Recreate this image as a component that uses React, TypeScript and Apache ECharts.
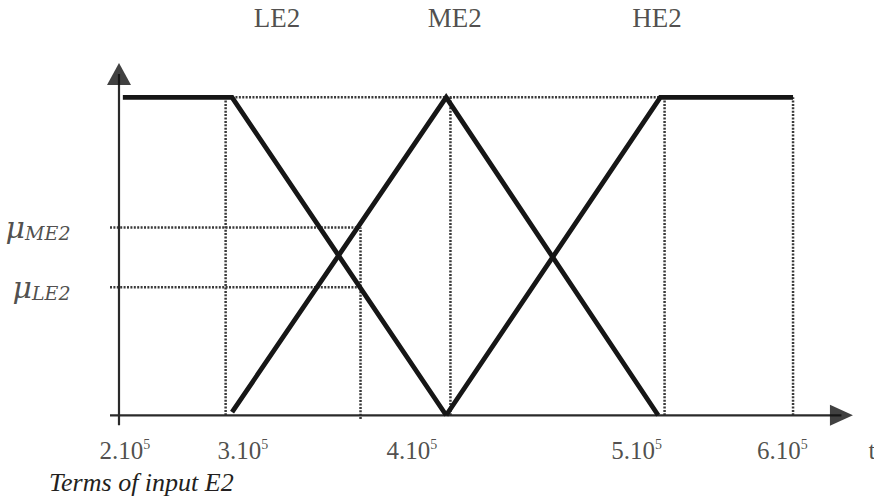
import React, { useEffect, useRef } from "react";
import * as echarts from "echarts";

// ---- data (input t in units of 10^5, membership degree 0..1) ----
const termNames = ["LE2", "ME2", "HE2"];
const termLabelX = [3.21, 4.04, 4.985];
const termLabelY = 1.25;

const LE2 = [[2.49, 1], [3, 1], [4, 0]];
const ME2 = [[3, 0.01], [4, 1], [4.99, 0]];
const HE2 = [[4, 0], [5, 1], [5.62, 1]];

const xInput = 3.6;
const muME2 = 0.591;
const muLE2 = 0.403;
const muNames = ["ME2", "LE2"];
const muValues = [muME2, muLE2];

const tickValues = [2, 3, 4, 5, 6];
const tickLabelX = [2.5, 3.05, 3.84, 4.89, 5.57];
const tickLabelY = -0.112;
const tickExponent = 5;
const axisName = "t";
const axisNameX = 5.97;

// dotted guides: vertical [x, y0, y1], horizontal [y, x0, x1]
const verticalGuides = [
  [2.97, 0, 1],
  [xInput, -0.012, muME2],
  [4.02, 0, 1],
  [5.02, 0, 1],
  [5.62, 0, 1],
];
const horizontalGuides = [
  [1, 3, 5],
  [muME2, 2.43, xInput],
  [muLE2, 2.43, xInput],
];

const xRange = [2.43, 5.9];
const yRange = [-0.04, 1.3];
const yAxisX = 2.472;
const yAxisBottom = -0.031;
const yArrowCenter = 1.0735;
const xArrowCenter = 5.846;

const caption = "Terms of input E2";

const INK = "#161616";
const TEXT = "#231f20";
const DOT = "#3a3a3a";

export default function App() {
  const ref = useRef<HTMLDivElement>(null);
  useEffect(() => {
    if (!ref.current) return;
    const chart = echarts.init(ref.current, null, { renderer: "svg" });

    const dotted = { color: DOT, width: 2.5, type: [2, 1.4] };
    const guideSeries: any[] = [];
    verticalGuides.forEach(([x, y0, y1]) =>
      guideSeries.push({
        type: "line",
        data: [[x, y0], [x, y1]],
        symbol: "none",
        clip: false,
        z: 1,
        lineStyle: dotted,
      })
    );
    horizontalGuides.forEach(([y, x0, x1]) =>
      guideSeries.push({
        type: "line",
        data: [[x0, y], [x1, y]],
        symbol: "none",
        clip: false,
        z: 1,
        lineStyle: dotted,
      })
    );

    const termSeries = [LE2, ME2, HE2].map((pts, i) => ({
      type: "line",
      name: termNames[i],
      data: pts,
      symbol: "none",
      clip: false,
      z: 3,
      lineStyle: { color: INK, width: 4.8, cap: "butt", join: "miter" },
    }));

    const axisSeries = [
      {
        type: "line",
        data: [[xRange[0], 0], [xArrowCenter, 0]],
        symbol: "none",
        clip: false,
        z: 2,
        lineStyle: { color: "#2a2a2a", width: 2.2 },
      },
      {
        type: "line",
        data: [[yAxisX, yAxisBottom], [yAxisX, yArrowCenter]],
        symbol: "none",
        clip: false,
        z: 2,
        lineStyle: { color: "#2a2a2a", width: 2.2 },
      },
      {
        type: "scatter",
        clip: false,
        z: 4,
        itemStyle: { color: "#111" },
        data: [
          { value: [xArrowCenter, 0], symbol: "triangle", symbolSize: [21, 23], symbolRotate: -90 },
          { value: [yAxisX, yArrowCenter], symbol: "triangle", symbolSize: [24, 22], symbolRotate: 0 },
        ],
      },
    ];

    const labelBase = {
      type: "scatter",
      clip: false,
      symbolSize: 1,
      itemStyle: { color: "rgba(0,0,0,0)" },
      silent: true,
      z: 5,
    };

    const labelSeries = [
      {
        ...labelBase,
        data: termNames.map((n, i) => ({ name: n, value: [termLabelX[i], termLabelY] })),
        label: {
          show: true,
          position: "inside",
          formatter: "{b}",
          color: TEXT,
          fontFamily: "Liberation Serif",
          fontSize: 27,
        },
      },
      {
        ...labelBase,
        data: tickValues.map((v, i) => ({ name: String(v), value: [tickLabelX[i], tickLabelY] })),
        label: {
          show: true,
          position: "inside",
          formatter: (p: any) => `{b|${p.name}.10}{s|${tickExponent}}`,
          rich: {
            b: { fontFamily: "Liberation Serif", fontSize: 25, lineHeight: 26, color: TEXT },
            s: { fontFamily: "Liberation Serif", fontSize: 14, lineHeight: 14, color: TEXT, verticalAlign: "top" },
          },
        },
      },
      {
        ...labelBase,
        data: [{ name: axisName, value: [axisNameX, tickLabelY] }],
        label: {
          show: true,
          position: "right",
          distance: 0,
          formatter: "{b}",
          color: TEXT,
          fontFamily: "Liberation Serif",
          fontSize: 25,
        },
      },
      {
        ...labelBase,
        data: muNames.map((n, i) => ({ name: n, value: [xRange[0], muValues[i]] })),
        label: {
          show: true,
          position: "left",
          distance: 39,
          formatter: (p: any) => `{m|μ}{s|${p.name}}`,
          rich: {
            m: { fontFamily: "DejaVu Serif", fontStyle: "italic", fontSize: 30, lineHeight: 30, color: TEXT },
            s: { fontFamily: "DejaVu Serif", fontStyle: "italic", fontSize: 19, lineHeight: 10, color: TEXT, verticalAlign: "bottom" },
          },
        },
      },
    ];

    chart.setOption({
      animation: false,
      backgroundColor: "#ffffff",
      title: {
        text: caption,
        left: 49,
        top: 469,
        padding: 0,
        textStyle: {
          fontFamily: "Liberation Serif",
          fontStyle: "italic",
          fontWeight: "normal",
          fontSize: 26,
          lineHeight: 26,
          color: TEXT,
        },
      },
      grid: { left: 110, right: 21, top: 2, bottom: 73 },
      xAxis: { type: "value", min: xRange[0], max: xRange[1], show: false },
      yAxis: { type: "value", min: yRange[0], max: yRange[1], show: false },
      series: [...guideSeries, ...axisSeries, ...termSeries, ...labelSeries],
    });
    return () => chart.dispose();
  }, []);
  return (
    <div
      ref={ref}
      style={{ position: "absolute", left: 0, top: 0, width: 874, height: 501 }}
    />
  );
}
